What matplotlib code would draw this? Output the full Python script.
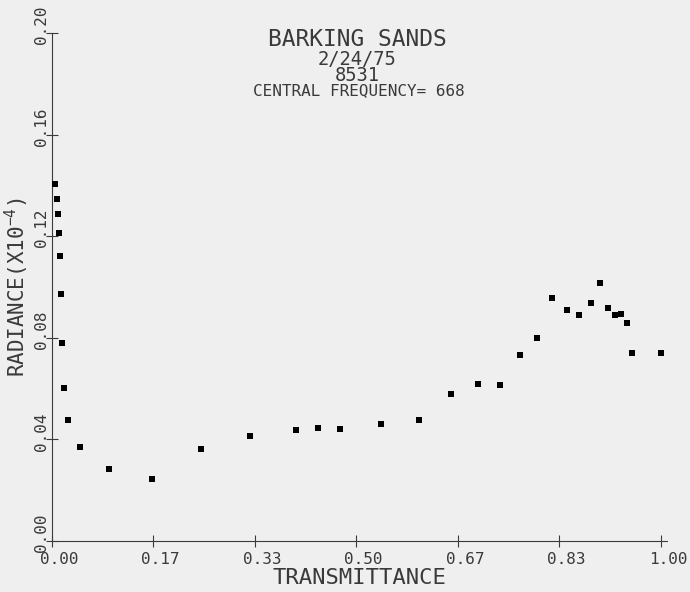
import numpy as np
import matplotlib.pyplot as plt
import matplotlib.transforms as mtransforms

# transmittance / radiance pairs
transmittance = [0.005, 0.008, 0.010, 0.012, 0.013, 0.015, 0.017, 0.020, 0.026,
                 0.046, 0.093, 0.165, 0.245, 0.325, 0.400, 0.437, 0.473, 0.540,
                 0.603, 0.655, 0.700, 0.736, 0.769, 0.797, 0.821, 0.846, 0.865,
                 0.885, 0.900, 0.913, 0.924, 0.934, 0.944, 0.952, 1.000]
radiance = [0.1406, 0.1348, 0.1289, 0.1214, 0.1121, 0.0974, 0.0778, 0.0604, 0.0476,
            0.0369, 0.0283, 0.0243, 0.0363, 0.0414, 0.0437, 0.0445, 0.0441, 0.0461,
            0.0477, 0.0580, 0.0619, 0.0615, 0.0733, 0.0800, 0.0958, 0.0910, 0.0890,
            0.0938, 0.1017, 0.0918, 0.0890, 0.0895, 0.0860, 0.0741, 0.0741]

xticks = [0, 1/6, 2/6, 3/6, 4/6, 5/6, 1.0]
xtick_labels = ["0.00", "0.17", "0.33", "0.50", "0.67", "0.83", "1.00"]
yticks = [0.00, 0.04, 0.08, 0.12, 0.16, 0.20]
ytick_labels = ["0.00", "0.04", "0.08", "0.12", "0.16", "0.20"]

site = "BARKING SANDS"
date_run = "2/24/75\n8531"
freq_line = "CENTRAL FREQUENCY= 668"

MONO = "DejaVu Sans Mono"
INK = "#3a3a3a"
PAPER = "#efefef"

plt.rcParams["font.family"] = [MONO]
plt.rcParams["mathtext.fontset"] = "custom"
plt.rcParams["mathtext.rm"] = MONO

fig = plt.figure(figsize=(6.9, 5.92), dpi=100, facecolor=PAPER)
ax = fig.add_axes([52/690, 51/592, 615/690, 508/592])
ax.set_facecolor(PAPER)

ax.scatter(transmittance, radiance, marker="s", s=22, color="black", linewidths=0, zorder=3)

ax.set_xlim(0, 1.01)
ax.set_ylim(0, 0.20)
for side in ["top", "right"]:
    ax.spines[side].set_visible(False)
for side in ["left", "bottom"]:
    ax.spines[side].set_color(INK)
    ax.spines[side].set_linewidth(0.8)

ax.set_xticks(xticks)
ax.set_xticklabels(xtick_labels)
ax.set_yticks(yticks)
ax.set_yticklabels(ytick_labels, rotation=90, va="center")
ax.tick_params(direction="inout", length=8, width=0.8, color=INK,
               labelcolor=INK, labelsize=11.5)
ax.tick_params(axis="x", pad=4)
ax.tick_params(axis="y", pad=-2)

# plotter offsets the tick labels a little
dx = mtransforms.ScaledTranslation(7/100, 0, fig.dpi_scale_trans)
dy = mtransforms.ScaledTranslation(0, 8/100, fig.dpi_scale_trans)
for lab in ax.get_xticklabels():
    lab.set_transform(lab.get_transform() + dx)
for lab in ax.get_yticklabels():
    lab.set_transform(lab.get_transform() + dy)

ax.set_xlabel("TRANSMITTANCE", fontsize=16, color=INK, labelpad=1)
ax.set_ylabel(r"RADIANCE(X10$^{-4}$)", fontsize=15, color=INK)
ax.yaxis.set_label_coords(-21/615, 0.50)

fig.text(357/690, 1 - 40/592, site, ha="center", va="center", fontsize=16.5, color=INK)
fig.text(357/690, 1 - 67.5/592, date_run, ha="center", va="center", fontsize=13.5,
         color=INK, linespacing=0.8, multialignment="center")
fig.text(359/690, 1 - 91/592, freq_line, ha="center", va="center", fontsize=11.5, color=INK)

fig.savefig("out.png", dpi=100, facecolor=PAPER)
